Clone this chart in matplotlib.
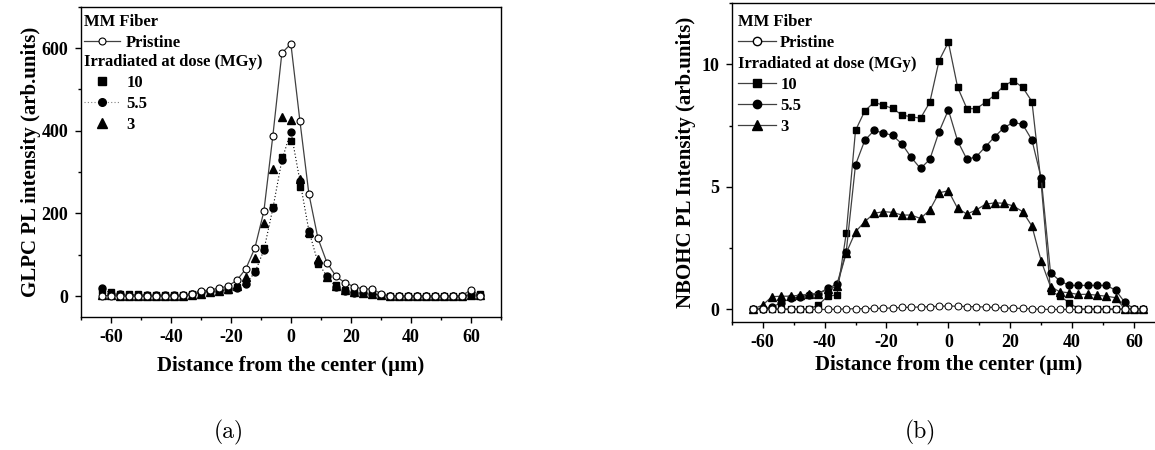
import matplotlib
matplotlib.use('Agg')
import matplotlib.pyplot as plt
from matplotlib.ticker import MultipleLocator
from matplotlib.lines import Line2D

plt.rcParams['font.family'] = 'Liberation Serif'
plt.rcParams['font.weight'] = 'bold'
plt.rcParams['axes.unicode_minus'] = False

# distance from the center (um)
dist = [-63, -60, -57, -54, -51, -48, -45, -42, -39, -36, -33, -30, -27, -24, -21,
        -18, -15, -12, -9, -6, -3, 0, 3, 6, 9, 12, 15, 18, 21, 24, 27, 30, 33, 36,
        39, 42, 45, 48, 51, 54, 57, 60, 63]

# (a) GLPC PL intensity
glpc_pristine = [1, 1, 0, 0, 0, 0, 0, 0, 0, 2, 6, 12, 15, 19, 24, 38, 66, 116, 205, 388,
                 588, 610, 424, 247, 140, 81, 48, 32, 23, 17, 17, 6, 1, 1, 1, 1, 1, 1, 1,
                 1, 1, 15, 1]
glpc_10 = [12, 10, 5, 4, 4, 3, 3, 3, 2, 2, 4, 8, 10, 11, 14, 22, 34, 60, 117, 216,
           337, 375, 263, 150, 77, 46, 27, 15, 12, 9, 7, 3, 1, 1, 1, 1, 1, 1, 1,
           1, 1, 5, 6]
glpc_55 = [20, 6, 4, 3, 3, 3, 2, 2, 2, 2, 4, 9, 11, 12, 16, 20, 30, 57, 111, 212,
           329, 398, 279, 158, 81, 48, 22, 12, 8, 7, 6, 2, 1, 1, 1, 1, 1, 1, 1,
           1, 1, 3, 3]
glpc_3 = [3, 2, 1, 1, 1, 1, 1, 1, 1, 1, 2, 6, 9, 12, 16, 25, 46, 93, 176, 307,
          433, 427, 283, 155, 89, 46, 24, 14, 9, 7, 6, 2, 1, 1, 1, 1, 1, 1, 1,
          1, 1, 2, 2]

# (b) NBOHC PL intensity
nbohc_pristine = [0, 0, 0, 0, 0, 0, 0, 0, 0, 0.01, 0.02, 0.03, 0.03, 0.04, 0.05,
                  0.06, 0.08, 0.09, 0.1, 0.11, 0.13, 0.14, 0.13, 0.12, 0.11, 0.1,
                  0.08, 0.06, 0.05, 0.04, 0.02, 0.01, 0, 0, 0, 0, 0, 0, 0, 0, 0, 0, 0]
nbohc_10 = [0.02, 0.02, 0.02, 0.02, 0.02, 0.02, 0.02, 0.18, 0.54, 0.59, 3.1, 7.3, 8.1,
            8.45, 8.33, 8.2, 7.93, 7.86, 7.8, 8.45, 10.15, 10.9, 9.06, 8.19, 8.19, 8.45,
            8.75, 9.13, 9.33, 9.06, 8.48, 5.1, 0.76, 0.54, 0.28, 0.02, 0.02, 0.02,
            0.02, 0.02, 0.02, 0.02, 0.02]
nbohc_55 = [0.02, 0.02, 0.1, 0.27, 0.45, 0.5, 0.6, 0.65, 0.86, 1.03, 2.35, 5.9, 6.9,
            7.3, 7.2, 7.1, 6.75, 6.2, 5.75, 6.12, 7.25, 8.14, 6.87, 6.12, 6.23, 6.64,
            7.05, 7.42, 7.63, 7.55, 6.91, 5.35, 1.5, 1.17, 0.98, 0.98, 0.98, 0.98,
            0.98, 0.79, 0.29, 0.02, 0.02]
nbohc_3 = [0.02, 0.18, 0.52, 0.54, 0.54, 0.58, 0.62, 0.65, 0.82, 0.95, 2.3, 3.17, 3.58,
           3.92, 3.99, 3.96, 3.85, 3.85, 3.71, 4.06, 4.76, 4.84, 4.12, 3.89, 4.06, 4.29,
           4.35, 4.33, 4.22, 3.99, 3.4, 1.97, 0.93, 0.72, 0.68, 0.61, 0.62, 0.58, 0.54,
           0.48, 0.02, 0.02, 0.02]

xlabel = 'Distance from the center (µm)'
lc = '#404040'

fig = plt.figure(figsize=(11.55, 4.5), dpi=100)
ax1 = fig.add_axes([0.0699, 0.2962, 0.3639, 0.6889])
ax2 = fig.add_axes([0.6335, 0.2851, 0.3752, 0.7082])


def style(ax, xpad):
    ax.tick_params(direction='out', which='major', length=4, width=1, labelsize=13, pad=5)
    ax.tick_params(direction='out', which='minor', length=2.5, width=1)
    for s in ax.spines.values():
        s.set_linewidth(1.0)
    ax.set_xlim(-70, 70)
    ax.xaxis.set_major_locator(MultipleLocator(20))
    ax.xaxis.set_minor_locator(MultipleLocator(10))
    ax.set_xlabel(xlabel, fontsize=15, fontweight='bold', labelpad=xpad)


def legends(ax, h_pr, h_dose, x0, y1, y2, hl, tp):
    opts = dict(loc='upper left', frameon=False, alignment='left', fontsize=12,
                title_fontproperties={'weight': 'bold', 'size': 12},
                handlelength=hl, handletextpad=tp, borderaxespad=0,
                borderpad=0, labelspacing=0.3)
    leg1 = ax.legend([h_pr], ['Pristine'], title='MM Fiber',
                     bbox_to_anchor=(x0, y1), **opts)
    ax.add_artist(leg1)
    ax.legend(h_dose, ['10', '5.5', '3'], title='Irradiated at dose (MGy)',
              bbox_to_anchor=(x0, y2), **opts)


# ---- (a)
l10, = ax1.plot(dist, glpc_10, 's', color='black', ms=4.5, ls='none')
l55, = ax1.plot(dist, glpc_55, 'o', color='black', ms=5, ls=(0, (1, 2)), lw=0.8)
l3, = ax1.plot(dist, glpc_3, '^', color='black', ms=5.5, ls='none')
lp, = ax1.plot(dist, glpc_pristine, 'o', color=lc, lw=0.9, ls='-', ms=5,
               mfc='white', mec='black', mew=0.8)
ax1.set_ylim(-50, 700)
ax1.yaxis.set_major_locator(MultipleLocator(200))
ax1.yaxis.set_minor_locator(MultipleLocator(100))
ax1.set_ylabel('GLPC PL intensity (arb.units)', fontsize=15, fontweight='bold', labelpad=0)
style(ax1, 7)
h55 = Line2D([], [], marker='o', color='#808080', ls=(0, (1, 2)), lw=0.8, ms=5.5,
             mfc='black', mec='black')
h10 = Line2D([], [], marker='s', color='black', ls='none', ms=5.5)
h3 = Line2D([], [], marker='^', color='black', ls='none', ms=6.5)
legends(ax1, lp, [h10, h55, h3], 0.007, 0.978, 0.848, 2.2, 0.35)

# ---- (b)
kw = dict(color=lc, lw=0.9, ls='-', mfc='black', mec='black')
m10, = ax2.plot(dist, nbohc_10, marker='s', ms=4.5, **kw)
m55, = ax2.plot(dist, nbohc_55, marker='o', ms=5, **kw)
m3, = ax2.plot(dist, nbohc_3, marker='^', ms=5.5, **kw)
mp, = ax2.plot(dist, nbohc_pristine, 'o', color=lc, lw=0.9, ls='-', ms=5,
               mfc='white', mec='black', mew=0.7)
ax2.set_ylim(-0.5, 12.5)
ax2.yaxis.set_major_locator(MultipleLocator(5))
ax2.yaxis.set_minor_locator(MultipleLocator(2.5))
ax2.set_ylabel('NBOHC PL Intensity (arb.units)', fontsize=15, fontweight='bold', labelpad=4)
style(ax2, 3)
g10 = Line2D([], [], marker='s', ms=5.5, **kw)
g55 = Line2D([], [], marker='o', ms=6, **kw)
g3 = Line2D([], [], marker='^', ms=6.5, **kw)
gp = Line2D([], [], marker='o', ms=6, color=lc, lw=0.9, mfc='white', mec='black')
legends(ax2, gp, [g10, g55, g3], 0.014, 0.967, 0.834, 2.3, 0.25)

fig.text(229 / 1155, 1 - 432 / 450, '(a)', fontfamily='cmr10', fontweight='normal',
         fontsize=17, ha='center', va='center')
fig.text(920 / 1155, 1 - 432 / 450, '(b)', fontfamily='cmr10', fontweight='normal',
         fontsize=17, ha='center', va='center')

fig.savefig('out.png', dpi=100)
